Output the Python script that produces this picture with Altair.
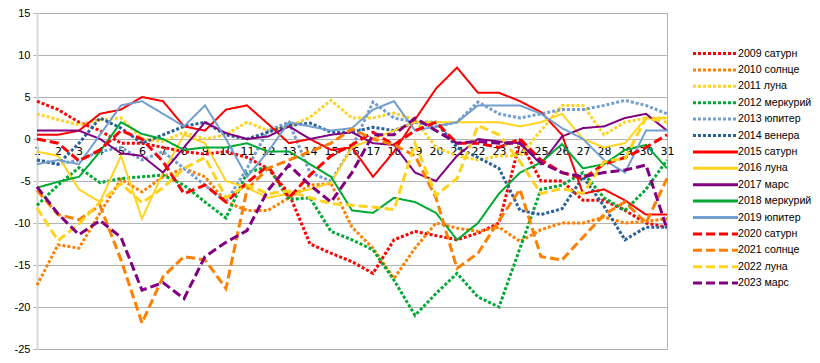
import altair as alt
import pandas as pd

days = list(range(1, 32))

names = ["2009 сатурн", "2010 солнце", "2011 луна", "2012 меркурий", "2013 юпитер",
         "2014 венера", "2015 сатурн", "2016 луна", "2017 марс", "2018 меркурий",
         "2019 юпитер", "2020 сатурн", "2021 солнце", "2022 луна", "2023 марс"]

s2009 = [4.5, 3.5, 2, 1, -0.5, -0.5, -1, -1.5, -1.8, -1.5, -2.2, -3.5, -6.5, -12.5, -13.6, -14.6,
         -16, -12, -11, -11.5, -12, -11.2, -10, -0.3, -5, -5, -7.3, -7.3, -8.5, -10, -10.5]
s2010 = [-17.4, -12.6, -13, -8.8, -4.8, -6.3, -4.5, -3.5, -4.5, -7.5, -8.5, -8.5, -7, -5.5, -5.3, -10.5,
         -13, -16.6, -13, -10, -10.6, -11, -10.5, -12.2, -10.8, -10, -10, -9.3, -10, -9.8, -9.5]
s2011 = [3, 2.3, 1.7, 2.3, 2.5, 0, -0.3, 0.8, 0, 0.5, 2, 1, 1.5, 2.6, 4.6, 2.5,
         2.5, 3.1, 2.3, -1, -2, -2.5, -2, -2, 1, 4, 4, 0.5, 2, 2.5, 2.5]
s2012 = [-7.9, -5.5, -3.4, -5.2, -4.7, -4.5, -4.3, -5.5, -7.5, -9.4, -4, -3.3, -7.2, -7, -11, -12,
         -13.2, -16.8, -21, -18.4, -16, -18.8, -20, -13, -6, -5.5, -4, -7, -8.5, -6, -2.5]
s2013 = [-2.5, -3, -2.5, -1.5, -1, -2.5, -1.5, -3.5, -5.5, -7.5, -3.5, 1, 2, -4, -5, -1,
         4.4, 2.5, 2, 1.5, 2, 4.4, 3, 2.5, 3, 3.5, 3.5, 4, 4.6, 4, 3]
s2014 = [-2.5, -3, -0.5, 2.5, 1.3, -0.5, 0.5, 1.5, 2, 0.5, 0, 0.8, 1.6, 1.9, 0.8, 0.8,
         1.4, 1, 2, 2, -1, -2.2, -3.5, -8.5, -9, -8.3, -4.5, -8, -12, -10.5, -10.5]
s2015 = [0.5, 0.5, 1, 3, 3.5, 5, 4.5, 1.5, 1, 3.5, 4, 1.8, -0.5, 0, -1.3, -1,
         -4.5, -1.5, 2.3, 6, 8.5, 5.5, 5.5, 4.5, 3.2, 0.5, -6.5, -6, -7.3, -9, -9]
s2016 = [-1.5, -2, -6, -7.5, -2, -9.5, -4, 0.5, -0.5, -5, -5.8, -7, -6.5, -6, -5.2, -1,
         0, 1, 2, 2, 2, 2, 2, 1.5, 2, 3, 0, -1, -0.5, 2.5, 2.5]
s2017 = [1, 1, 1, 0, -1.7, -2, -4, -1, 2, 0.7, 0, 0.3, 1.5, 0, 0.5, 0.8,
         -0.5, -0.7, -4, -5, -2, 0, -0.3, -0.5, -3, 0.3, 1.3, 1.5, 2.5, 3, 1]
s2018 = [-5.8, -5.1, -4.5, -1.5, 2, 0.6, 0, -1.3, -1, -1, -0.5, -1.5, -1.5, -3, -4.5, -8.5,
         -8.8, -7, -7.5, -8.8, -12, -10, -6.5, -4, -2.8, -0.6, -3.5, -3, -1.3, -0.7, -3.5]
s2019 = [-3, -2.5, -3, 0.5, 4, 4.5, 3, 1.5, 4, 0, -4.5, -1.5, 2, 1.5, 1, 1.3,
         3.5, 4.5, 1, 1.5, 2, 4, 4, 4, 3, 1.3, 0, -2.5, -4, 1, 1]
s2020 = [0, -0.5, -2.6, -1.3, 1, 0, -2.7, -6.5, -5.5, -7.5, -5.2, -3.2, -7, -4.3, -2, -0.7,
         0.8, -0.7, 1, 2, -0.5, -0.5, -1, 0, -2.5, -4, -4.7, -3, -2.2, -1, 0.5]
s2021 = [-6.1, -9, -9.6, -7.9, -14.4, -21.9, -16.4, -14, -14.4, -17.8, -6, -3.5, -2.5, -1.5, -0.5, 1.2,
         0, -0.7, -2, -7, -15.4, -13.6, -9.7, -6, -14, -14.4, -11.7, -9, -7.5, -10, -4.7]
s2022 = [-8.2, -12.1, -10.1, -7.5, -5.3, -7.6, -5.8, -3.5, -2.2, -7, -5.5, -6.5, -6.2, -7, -7.7, -7.9,
         -8.1, -8.4, -0.5, -6.7, -4.7, 1.6, 0.5, -2.7, -6.5, -5.9, -6.5, -2.7, -2.3, 2.5, 2]
s2023 = [-5.7, -8.9, -11.4, -9.7, -11.7, -18, -17.1, -19, -14, -12.3, -10.9, -6.1, -3.1, -5.5, -7.5, -4,
         0.5, 0.5, 2.5, 1, -0.5, -0.3, -0.5, -0.5, -2.8, -4, -4.5, -4, -3.7, -3.1, -10.7]

all_series = [s2009, s2010, s2011, s2012, s2013, s2014, s2015, s2016, s2017, s2018,
              s2019, s2020, s2021, s2022, s2023]

colors = ["#ff0000", "#ff8000", "#ffd320", "#00a933", "#729fcf", "#2a6099",
          "#ff0000", "#ffd320", "#800080", "#00a933", "#729fcf",
          "#ff0000", "#ff8000", "#ffd320", "#800080"]
dot = [3, 2]
solid = [1, 0]
dash = [9, 4]
dashes = [dot] * 6 + [solid] * 5 + [dash] * 4
styles = ["dotted"] * 6 + ["solid"] * 5 + ["dashed"] * 4
style_width = {"dotted": 3, "solid": 2, "dashed": 3}

rows = []
for name, st, vals in zip(names, styles, all_series):
    for d, v in zip(days, vals):
        rows.append({"day": d, "value": v, "series": name, "style": st})
df = pd.DataFrame(rows)

legend = alt.Legend(
    title=None, orient="none", legendX=671, legendY=33,
    symbolType="M-3.95,0H3.95", symbolSize=130, symbolStrokeWidth=3,
    labelFont="Liberation Sans", labelFontSize=10.6, labelColor="#000000",
    labelOffset=15, rowPadding=2.4, padding=0, labelLimit=200,
)

x_enc = alt.X("day:Q",
              scale=alt.Scale(domain=[1, 31], nice=False, zero=False),
              axis=alt.Axis(values=days, title=None, grid=False, domain=False, ticks=False,
                            offset=-210, labelFont="DejaVu Sans", labelFontSize=11,
                            labelColor="#000000", labelPadding=6, labelOverlap=False,
                            labelFlush=False))
y_enc = alt.Y("value:Q",
              scale=alt.Scale(domain=[-25, 15], nice=False, zero=False),
              axis=alt.Axis(values=list(range(-25, 16, 5)), title=None, grid=True,
                            gridColor="#b3b3b3", gridWidth=1, domainColor="#d9d9d9",
                            domainWidth=2, tickColor="#b3b3b3", tickSize=4,
                            labelExpr="'' + datum.value", labelFont="Liberation Sans",
                            labelFontSize=11, labelColor="#000000", labelPadding=3))
color_enc = alt.Color("series:N", scale=alt.Scale(domain=names, range=colors), legend=legend)
dash_enc = alt.StrokeDash("series:N", scale=alt.Scale(domain=names, range=dashes), legend=legend)

layers = []
for st in ["dotted", "solid", "dashed"]:
    layers.append(
        alt.Chart(df).transform_filter(alt.datum.style == st)
        .mark_line(strokeCap="butt", strokeWidth=style_width[st])
        .encode(x=x_enc, y=y_enc, color=color_enc, strokeDash=dash_enc)
    )

chart = alt.layer(*layers).properties(
    width=630, height=336,
    autosize=alt.AutoSizeParams(type="none"),
    padding={"left": 29, "top": 5, "right": 145, "bottom": 6},
).configure_view(
    stroke="#b3b3b3", strokeWidth=1
)

chart.save("out.html", embed_options={"renderer": "svg", "actions": False})
